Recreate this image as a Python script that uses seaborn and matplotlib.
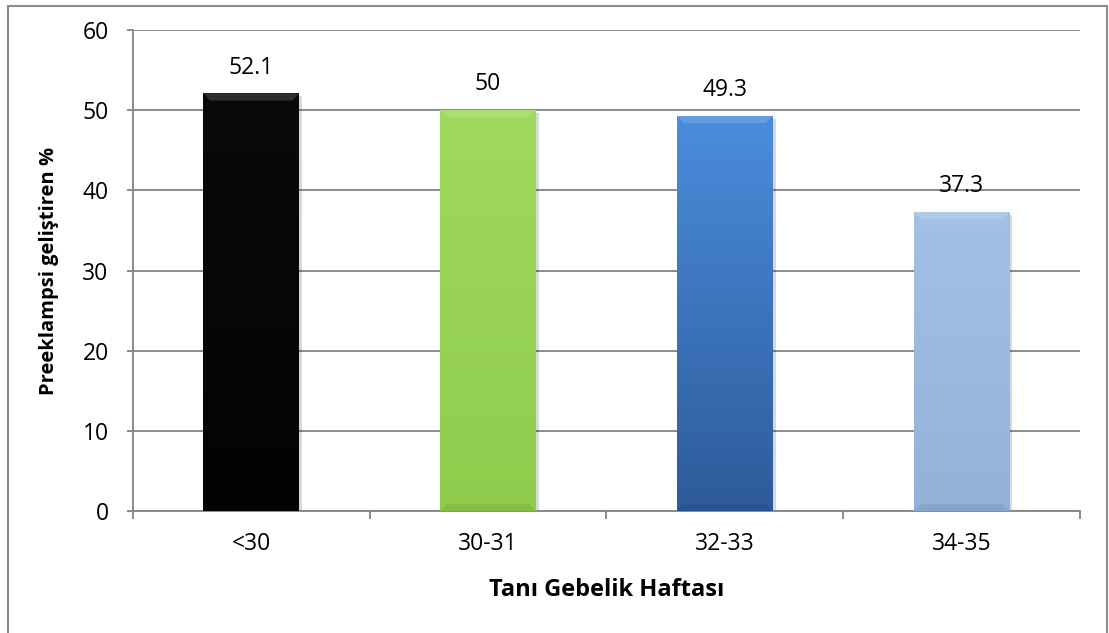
import numpy as np
import pandas as pd
import matplotlib
matplotlib.use("Agg")
import matplotlib.pyplot as plt
import matplotlib.patches as mpatches
from matplotlib.colors import LinearSegmentedColormap
import seaborn as sns

# Data
categories = ["<30", "30-31", "32-33", "34-35"]
values = [52.1, 50, 49.3, 37.3]
value_labels = ["52.1", "50", "49.3", "37.3"]
y_ticks = [0, 10, 20, 30, 40, 50, 60]

# Top/bottom colours of each bar's vertical gradient
bar_top = ["#0a0a0a", "#9fd95e", "#4b8ddd", "#a3c1e6"]
bar_bottom = ["#030303", "#8fcc4c", "#2d5b9a", "#93b2d9"]

sns.set_theme(style="white")
plt.rcParams["font.family"] = ["Open Sans", "DejaVu Sans"]

fig = plt.figure(figsize=(11.09, 6.33), dpi=100)
ax = fig.add_axes([0.1199, 0.1927, 0.8539, 0.7599])

df = pd.DataFrame({"cat": categories, "val": values})
sns.barplot(data=df, x="cat", y="val", hue="cat", palette=bar_top,
            legend=False, width=0.405, ax=ax, zorder=3, saturation=1)

ax.set_ylim(0, 60)
ax.set_xlim(-0.5, len(categories) - 0.5)
ax.set_yticks(y_ticks)
ax.yaxis.grid(True, color="#8a8a8a", linewidth=1.4, zorder=0)
ax.set_axisbelow(True)

for s in ["top", "right"]:
    ax.spines[s].set_visible(False)
for s in ["left", "bottom"]:
    ax.spines[s].set_color("#8a8a8a")
    ax.spines[s].set_linewidth(1.4)

# Category boundary ticks on x, outward ticks on y
ax.set_xticks(np.arange(-0.5, len(categories), 1.0), minor=True)
ax.tick_params(axis="x", which="minor", direction="out", length=6,
               width=1.4, color="#8a8a8a", bottom=True)
ax.tick_params(axis="x", which="major", length=0, pad=15, labelsize=16.5,
               labelcolor="black")
ax.tick_params(axis="y", which="major", direction="out", length=4.5,
               width=1.4, color="#8a8a8a", left=True, pad=13,
               labelsize=16.5, labelcolor="black")

ax.set_xlabel("Tanı Gebelik Haftası", fontsize=17, fontweight="bold",
              labelpad=16, color="black")
ax.set_ylabel("Preeklampsi geliştiren %", fontsize=14.5, fontweight="bold",
              labelpad=17, color="black")

# Gradient fill, soft shadow, bevel and value label for each bar
for i, patch in enumerate(ax.patches):
    x0, y0 = patch.get_x(), patch.get_y()
    w, h = patch.get_width(), patch.get_height()
    shadow = mpatches.Rectangle((x0 + 0.012, y0), w, h - 0.35,
                                facecolor="#000000", alpha=0.15,
                                edgecolor="none", zorder=2.5)
    ax.add_patch(shadow)
    cmap = LinearSegmentedColormap.from_list(
        f"g{i}", [bar_bottom[i], bar_top[i]])
    grad = np.linspace(0, 1, 256).reshape(-1, 1)
    im = ax.imshow(grad, extent=[x0, x0 + w, y0, y0 + h], origin="lower",
                   cmap=cmap, aspect="auto", zorder=3.5)
    im.set_clip_path(patch)
    patch.set_edgecolor("none")
    # bevel: light band at the top, faint dark band at the bottom
    ax.add_patch(mpatches.Polygon(
        [(x0, y0 + h), (x0 + w, y0 + h), (x0 + w - 0.03, y0 + h - 0.9),
         (x0 + 0.03, y0 + h - 0.9)],
        closed=True, facecolor="white", alpha=0.15, edgecolor="none",
        zorder=3.6))
    ax.add_patch(mpatches.Polygon(
        [(x0, y0), (x0 + w, y0), (x0 + w - 0.03, y0 + 0.9),
         (x0 + 0.03, y0 + 0.9)],
        closed=True, facecolor="black", alpha=0.07, edgecolor="none",
        zorder=3.6))
    ax.annotate(value_labels[i], (x0 + w / 2, y0 + h), xytext=(0, 18.5),
                textcoords="offset points", ha="center", va="center",
                fontsize=16.5, color="black", zorder=5)

# Chart-area frame
fig.add_artist(mpatches.Rectangle((8 / 1109, -0.01), 1099 / 1109, 1.0,
                                  transform=fig.transFigure, fill=False,
                                  edgecolor="#8c8c8c", linewidth=1.5))

fig.savefig("out.png", dpi=100)
